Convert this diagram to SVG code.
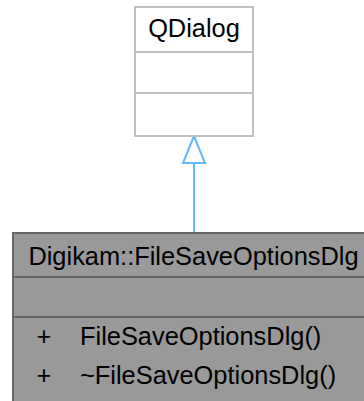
<svg xmlns="http://www.w3.org/2000/svg" width="364" height="401" viewBox="0 0 364 401">
<style>
text{font-family:"Liberation Sans",Arial,Helvetica,sans-serif;font-size:25.4px;fill:#000}
.base{fill:#fff;stroke:#bfbfbf;stroke-width:2}
.baseline{stroke:#bfbfbf;stroke-width:2}
.main{fill:#999;stroke:#666;stroke-width:2}
.mainline{stroke:#666;stroke-width:2}
.edge{stroke:#63b8ff;stroke-width:2;fill:none}
.head{fill:#fff;stroke:#63b8ff;stroke-width:2}
</style>
<g id="connectors">
<path class="edge" d="M194 232 L194 163"/>
<path class="head" d="M194 136 L205 163 L183 163 Z"/>
</g>
<g id="QDialog">
<rect class="base" x="135" y="7" width="118" height="129"/>
<line class="baseline" x1="135" y1="52" x2="253" y2="52"/>
<line class="baseline" x1="135" y1="93" x2="253" y2="93"/>
<text x="194" y="37" text-anchor="middle">QDialog</text>
</g>
<g id="FileSaveOptionsDlg">
<rect class="main" x="13" y="233" width="362" height="180"/>
<line class="mainline" x1="13" y1="277" x2="375" y2="277"/>
<line class="mainline" x1="13" y1="317" x2="375" y2="317"/>
<text x="193.5" y="265" text-anchor="middle">Digikam::FileSaveOptionsDlg</text>
<text x="44" y="345" text-anchor="middle">+</text>
<text x="80" y="345">FileSaveOptionsDlg()</text>
<text x="44" y="384" text-anchor="middle">+</text>
<text x="80" y="384">~FileSaveOptionsDlg()</text>
</g>
</svg>
